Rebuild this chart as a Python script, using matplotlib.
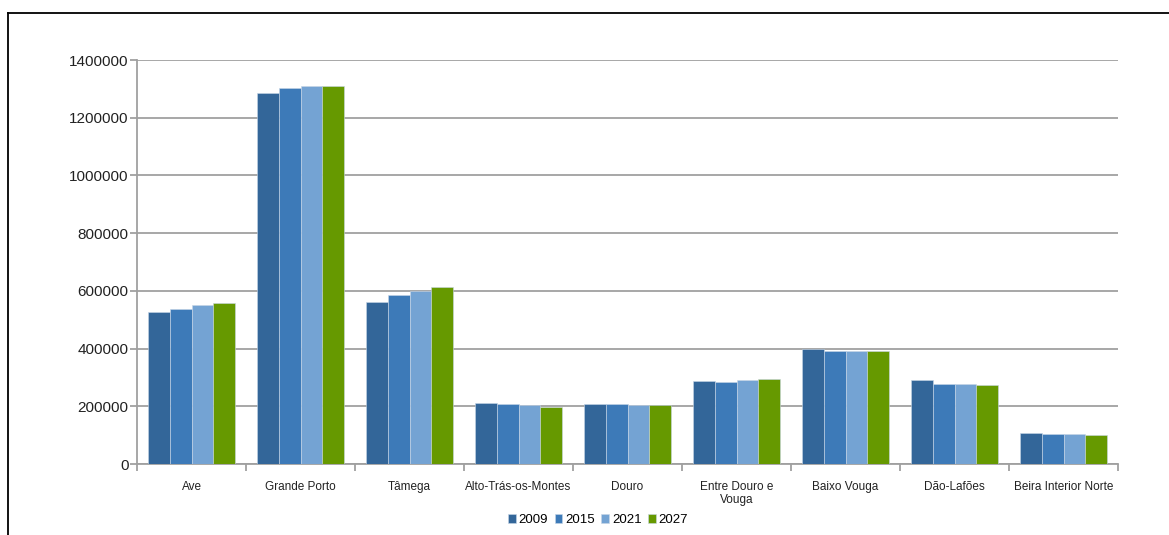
import numpy as np
import matplotlib.pyplot as plt
from matplotlib.lines import Line2D

plt.rcParams['font.family'] = ['Liberation Sans', 'DejaVu Sans']

regions = ['Ave', 'Grande Porto', 'Tâmega', 'Alto-Trás-os-Montes', 'Douro',
           'Entre Douro e\nVouga', 'Baixo Vouga', 'Dão-Lafões',
           'Beira Interior Norte']
years = ['2009', '2015', '2021', '2027']

pop_2009 = [526000, 1284500, 560500, 211500, 207000, 286500, 399500, 291000, 107500]
pop_2015 = [538000, 1302000, 586500, 207000, 207000, 285500, 391000, 277500, 103000]
pop_2021 = [552000, 1311000, 599500, 203500, 203500, 291000, 391000, 277500, 103000]
pop_2027 = [557000, 1311000, 613500, 199000, 203500, 294500, 391000, 272500, 99500]

series = [pop_2009, pop_2015, pop_2021, pop_2027]
colors = ['#336699', '#3d7ab8', '#74a3d3', '#669900']

fig = plt.figure(figsize=(11.69, 5.35), dpi=100)
ax = fig.add_axes([137 / 1169, 1 - 464 / 535, (1118 - 137) / 1169, (464 - 60) / 535])

x = np.arange(len(regions))
w = 0.2
for i, (vals, col, yr) in enumerate(zip(series, colors, years)):
    ax.bar(x + (i - 1.5) * w, vals, width=w, color=col, edgecolor='#c8d6e6',
           linewidth=0.4, label=yr, zorder=3)

ax.set_xlim(-0.5, len(regions) - 0.5)
ax.set_ylim(0, 1400000)
ax.set_yticks(np.arange(0, 1400001, 200000))
ax.set_yticklabels([str(v) for v in range(0, 1400001, 200000)], fontsize=11,
                   color='#222222')
ax.yaxis.grid(True, color='#a0a0a0', linewidth=1.3, zorder=0)

# category labels centered, tick marks on the group boundaries
ax.set_xticks(x)
ax.set_xticklabels(regions, fontsize=8.5, color='#222222')
ax.tick_params(axis='x', length=0, pad=12)
ax.set_xticks(np.arange(-0.5, len(regions)), minor=True)
ax.tick_params(axis='x', which='minor', length=5, color='#a0a0a0', width=1.3)
ax.tick_params(axis='y', length=5, color='#a0a0a0', width=1.3, pad=1)

for side in ['top', 'right']:
    ax.spines[side].set_visible(False)
for side in ['left', 'bottom']:
    ax.spines[side].set_color('#a0a0a0')
    ax.spines[side].set_linewidth(1.3)

ax.legend(loc='center', bbox_to_anchor=(598 / 1169, 1 - 520 / 535),
          bbox_transform=fig.transFigure, ncol=4, frameon=False, fontsize=9.5,
          handlelength=0.6, handleheight=0.6, handletextpad=0.2,
          columnspacing=0.5)

# outer frame, top and left edges only
fig.add_artist(Line2D([8 / 1169, 1], [1 - 13 / 535, 1 - 13 / 535],
                      transform=fig.transFigure, color='black', linewidth=1.3))
fig.add_artist(Line2D([8 / 1169, 8 / 1169], [0, 1 - 13 / 535],
                      transform=fig.transFigure, color='black', linewidth=1.3))

fig.savefig('out.png', dpi=100)
